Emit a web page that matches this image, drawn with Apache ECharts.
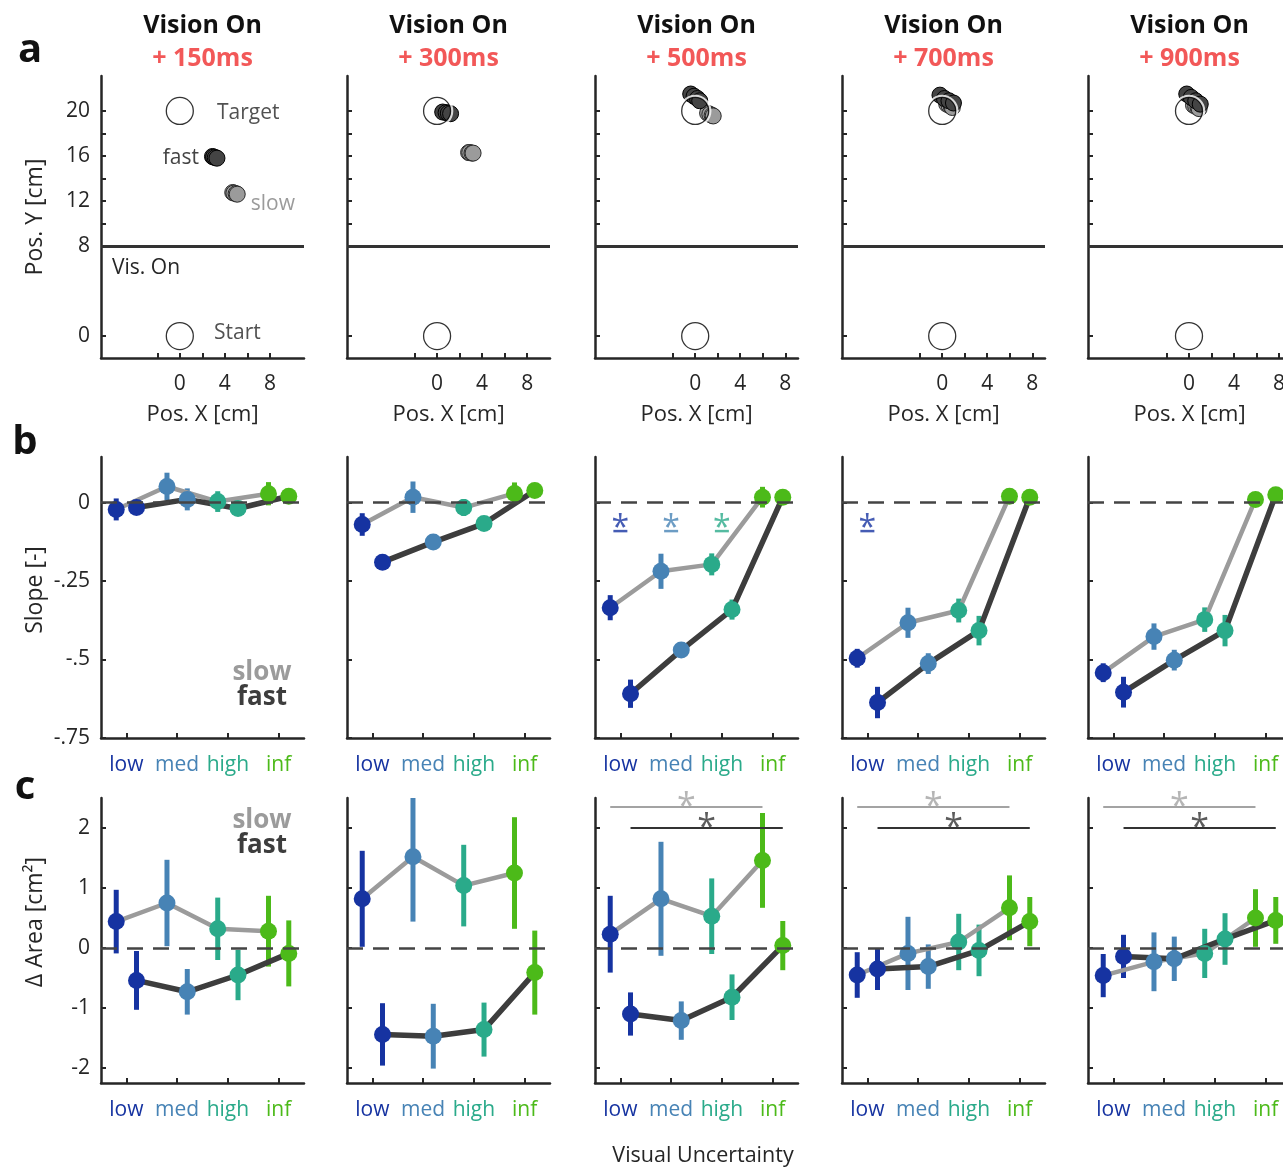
<!DOCTYPE html>
<html>
<head>
<meta charset="utf-8">
<script src="https://cdn.jsdelivr.net/npm/echarts@6/dist/echarts.min.js"></script>
<style>
  html, body { margin: 0; padding: 0; background: #fff; }
  #chart { width: 1283px; height: 1168px; }
</style>
</head>
<body>
<div id="chart"></div>
<script>
// ---- data ----------------------------------------------------------------
const delays = ['+ 150ms', '+ 300ms', '+ 500ms', '+ 700ms', '+ 900ms'];
const levels = ['low', 'med', 'high', 'inf'];

// hand positions [x, y] in cm at each delay after vision onset
const fastEnds = [
  [[2.9, 15.95], [3.0, 15.9], [3.15, 15.85], [3.3, 15.8]],
  [[0.5, 19.9], [0.8, 19.85], [1.0, 19.8], [1.2, 19.75]],
  [[-0.4, 21.5], [-0.1, 21.3], [0.2, 21.1], [0.4, 20.9]],
  [[-0.2, 21.4], [0.2, 21.1], [0.6, 20.9], [1.0, 20.7]],
  [[-0.2, 21.5], [0.2, 21.2], [0.6, 20.9], [1.0, 20.6]]
];
const slowEnds = [
  [[4.7, 12.75], [4.8, 12.7], [5.0, 12.65], [5.1, 12.6]],
  [[2.8, 16.3], [2.9, 16.3], [3.1, 16.25], [3.2, 16.25]],
  [[1.1, 19.8], [1.3, 19.7], [1.5, 19.6], [1.6, 19.55]],
  [[0.4, 20.6], [0.6, 20.5], [0.8, 20.4], [0.9, 20.3]],
  [[0.4, 20.5], [0.6, 20.4], [0.8, 20.3], [0.9, 20.2]]
];
const targetPos = [0, 20];
const startPos = [0, 0];
const visionOnY = 8;

// slope of the correction per uncertainty level (low, med, high, inf)
const slopeSlowMean = [
  [-0.022, 0.051, 0.003, 0.028],
  [-0.070, 0.017, -0.016, 0.029],
  [-0.335, -0.219, -0.197, 0.017],
  [-0.496, -0.383, -0.344, 0.020],
  [-0.542, -0.427, -0.373, 0.010]
];
const slopeSlowErr = [
  [0.035, 0.044, 0.033, 0.037],
  [0.036, 0.050, 0.027, 0.035],
  [0.040, 0.056, 0.035, 0.033],
  [0.030, 0.048, 0.038, 0.020],
  [0.030, 0.042, 0.039, 0.020]
];
const slopeFastMean = [
  [-0.016, 0.010, -0.019, 0.020],
  [-0.190, -0.126, -0.067, 0.038],
  [-0.609, -0.470, -0.341, 0.017],
  [-0.637, -0.513, -0.408, 0.017],
  [-0.604, -0.502, -0.408, 0.025]
];
const slopeFastErr = [
  [0.020, 0.035, 0.020, 0.020],
  [0.020, 0.020, 0.020, 0.020],
  [0.045, 0.020, 0.032, 0.020],
  [0.050, 0.033, 0.047, 0.020],
  [0.049, 0.033, 0.050, 0.020]
];
// levels with a significant slow/fast slope difference, per delay
const slopeStars = [[], [], [0, 1, 2], [0], []];

// change of enclosed area (cm^2)
const areaSlowMean = [
  [0.44, 0.75, 0.32, 0.28],
  [0.82, 1.52, 1.04, 1.25],
  [0.23, 0.82, 0.53, 1.46],
  [-0.45, -0.09, 0.10, 0.67],
  [-0.46, -0.23, -0.09, 0.50]
];
const areaSlowErr = [
  [0.53, 0.72, 0.52, 0.59],
  [0.80, 1.08, 0.68, 0.93],
  [0.64, 0.95, 0.63, 0.79],
  [0.38, 0.61, 0.47, 0.54],
  [0.36, 0.49, 0.41, 0.48]
];
const areaFastMean = [
  [-0.54, -0.73, -0.45, -0.09],
  [-1.44, -1.47, -1.36, -0.41],
  [-1.10, -1.21, -0.82, 0.04],
  [-0.35, -0.31, -0.04, 0.44],
  [-0.14, -0.18, 0.15, 0.46]
];
const areaFastErr = [
  [0.49, 0.38, 0.42, 0.55],
  [0.52, 0.54, 0.45, 0.70],
  [0.36, 0.32, 0.38, 0.41],
  [0.35, 0.37, 0.43, 0.41],
  [0.36, 0.37, 0.43, 0.39]
];
// delays with a significant low-vs-inf trend in both speed groups
const areaTrendPanels = [2, 3, 4];

// ---- styling ---------------------------------------------------------------
const FONT = '"Open Sans", "Noto Sans", sans-serif';
const FS = 21;
const INK = '#262626';
const SLOW = '#9b9b9b';
const FAST = '#3d3d3d';
const RED = '#f25858';
const levelColors = ['#1633a1', '#4783b5', '#2aaa8a', '#4cba19'];

const colLeft = [101, 347, 595, 842, 1088];
const colW = 203;
const rowBox = [{ top: 76, h: 282 }, { top: 457, h: 281 }, { top: 798, h: 285 }];
const posXRange = [[-7, 11.03], [-8, 10.03], [-8.9, 9.13], [-8.9, 9.13], [-8.97, 9.06]];
const posYRange = [-1.95, 23.1];
const slopeRange = [-0.75, 0.145];
const areaRange = [-2.25, 2.5];
const catRange = [0.5, 4.5];
const OFF = 0.2; // horizontal offset of slow (left) / fast (right) groups

function baseAxis() {
  return {
    type: 'value',
    axisLine: { show: true, onZero: false, lineStyle: { color: INK, width: 2.5 } },
    axisTick: { show: true, inside: true, length: 5, lineStyle: { color: INK, width: 2 } },
    splitLine: { show: false },
    axisLabel: { color: INK, fontSize: FS, fontFamily: FONT }
  };
}

const grids = [], xAxes = [], yAxes = [], series = [];
const idx = (r, c) => r * 5 + c;

const levelRich = {};
levelColors.forEach((c, i) => { levelRich['l' + i] = { color: c, fontSize: FS, fontFamily: FONT }; });

for (let r = 0; r < 3; r++) {
  for (let c = 0; c < 5; c++) {
    const k = idx(r, c);
    grids.push({
      left: colLeft[c], top: rowBox[r].top, width: colW, height: rowBox[r].h,
      containLabel: false, outerBoundsMode: 'none'
    });
    const xa = baseAxis(), ya = baseAxis();
    xa.gridIndex = k; ya.gridIndex = k;
    if (r === 0) {
      xa.min = posXRange[c][0]; xa.max = posXRange[c][1];
      xa.axisTick.customValues = [-2, 0, 2, 4, 6, 8];
      xa.axisLabel.customValues = [0, 4, 8];
      xa.axisLabel.margin = 16;
      xa.name = 'Pos. X [cm]';
      xa.nameLocation = 'middle';
      xa.nameGap = 46;
      xa.nameTextStyle = { color: INK, fontSize: 22, fontFamily: FONT };
      ya.min = posYRange[0]; ya.max = posYRange[1];
      ya.axisTick.customValues = [0, 8, 10, 12, 14, 16, 18, 20];
      ya.axisLabel.customValues = [0, 8, 12, 16, 20];
    } else {
      xa.min = catRange[0]; xa.max = catRange[1];
      xa.axisTick.customValues = [1, 2, 3, 4];
      xa.axisLabel.customValues = [1, 2, 3, 4];
      xa.axisLabel.margin = 17;
      xa.axisLabel.formatter = v => { const i = Math.round(v) - 1; return '{l' + i + '|' + levels[i] + '}'; };
      xa.axisLabel.rich = levelRich;
      if (r === 1) {
        ya.min = slopeRange[0]; ya.max = slopeRange[1];
        ya.axisTick.customValues = [-0.75, -0.5, -0.25, 0];
        ya.axisLabel.customValues = [-0.75, -0.5, -0.25, 0];
        ya.axisLabel.formatter = v => (v === 0 ? '0' : String(v).replace('0.', '.'));
      } else {
        ya.min = areaRange[0]; ya.max = areaRange[1];
        ya.axisTick.customValues = [-2, -1, 0, 1, 2];
        ya.axisLabel.customValues = [-2, -1, 0, 1, 2];
      }
    }
    ya.axisLabel.margin = 11;
    ya.axisLabel.show = c === 0;
    xAxes.push(xa); yAxes.push(ya);
  }
}

// ---- row a: hand positions --------------------------------------------------
const labelFont = { fontSize: FS, fontFamily: FONT };
for (let c = 0; c < 5; c++) {
  const k = idx(0, c);
  series.push({
    type: 'line', xAxisIndex: k, yAxisIndex: k, data: [], silent: true,
    markLine: {
      silent: true, symbol: ['none', 'none'], label: { show: false },
      lineStyle: { color: '#333', width: 3, type: 'solid' },
      data: [{ yAxis: visionOnY }]
    }
  });
  const ptSeries = (pts, fill, edge, labelItem) => ({
    type: 'scatter', xAxisIndex: k, yAxisIndex: k, silent: true, symbolSize: 16,
    itemStyle: { color: fill, borderColor: edge, borderWidth: 1, opacity: 1 },
    data: pts.map((p, i) => {
      const item = { value: p };
      if (c === 0 && labelItem && labelItem.index === i) item.label = labelItem.label;
      return item;
    })
  });
  series.push(ptSeries(slowEnds[c], SLOW, '#2a2a2a', {
    index: 3,
    label: { show: true, formatter: 'slow', position: 'right', distance: 5, offset: [0, 10], color: SLOW, ...labelFont }
  }));
  series.push(ptSeries(fastEnds[c], '#444444', '#000', {
    index: 0,
    label: { show: true, formatter: 'fast', position: 'left', distance: 5, offset: [0, 2], color: '#444', ...labelFont }
  }));
  series.push({
    type: 'scatter', xAxisIndex: k, yAxisIndex: k, silent: true, symbolSize: 27,
    itemStyle: { color: '#fff', borderColor: '#000', borderWidth: 1.3 },
    data: [{
      value: startPos,
      label: c === 0 ? { show: true, formatter: 'Start', position: 'right', distance: 20, offset: [0, -3], color: INK, ...labelFont } : undefined
    }]
  });
  series.push({
    type: 'scatter', xAxisIndex: k, yAxisIndex: k, silent: true, symbolSize: 30,
    itemStyle: { color: 'rgba(255,255,255,0)', borderColor: '#fff', borderWidth: 2.5 },
    data: [targetPos]
  });
  series.push({
    type: 'scatter', xAxisIndex: k, yAxisIndex: k, silent: true, symbolSize: 27,
    itemStyle: { color: 'rgba(255,255,255,0)', borderColor: '#000', borderWidth: 1.3 },
    data: [{
      value: targetPos,
      label: c === 0 ? { show: true, formatter: 'Target', position: 'right', distance: 23, offset: [0, 2], color: INK, ...labelFont } : undefined
    }]
  });
}

// ---- rows b and c: slope and area per uncertainty level ----------------------
function errorBars(k, dx, means, errs, range) {
  return {
    type: 'custom', xAxisIndex: k, yAxisIndex: k, silent: true,
    encode: { x: 0, y: [1, 2] },
    data: means.map((m, i) => [i + 1 + dx, Math.max(m - errs[i], range[0]), Math.min(m + errs[i], range[1]), i]),
    renderItem: (params, api) => {
      const a = api.coord([api.value(0), api.value(1)]);
      const b = api.coord([api.value(0), api.value(2)]);
      return {
        type: 'line',
        shape: { x1: a[0], y1: a[1], x2: b[0], y2: b[1] },
        style: { stroke: levelColors[api.value(3)], lineWidth: 5 }
      };
    }
  };
}
function meanLine(k, dx, means, color, width) {
  return {
    type: 'line', xAxisIndex: k, yAxisIndex: k, silent: true,
    symbol: 'circle', symbolSize: 17, showSymbol: true,
    lineStyle: { color: color, width: width },
    itemStyle: { borderWidth: 0 },
    data: means.map((m, i) => ({ value: [i + 1 + dx, m], itemStyle: { color: levelColors[i] } }))
  };
}
function zeroLine(k) {
  return {
    type: 'line', xAxisIndex: k, yAxisIndex: k, data: [], silent: true,
    markLine: {
      silent: true, symbol: ['none', 'none'], label: { show: false },
      lineStyle: { color: '#444', width: 2.5, type: [16, 10] },
      data: [{ yAxis: 0 }]
    }
  };
}

const panels = [
  { r: 1, slow: slopeSlowMean, slowE: slopeSlowErr, fast: slopeFastMean, fastE: slopeFastErr, range: slopeRange },
  { r: 2, slow: areaSlowMean, slowE: areaSlowErr, fast: areaFastMean, fastE: areaFastErr, range: areaRange }
];
panels.forEach(p => {
  for (let c = 0; c < 5; c++) {
    const k = idx(p.r, c);
    series.push(errorBars(k, -OFF, p.slow[c], p.slowE[c], p.range));
    series.push(meanLine(k, -OFF, p.slow[c], SLOW, 4.5));
    series.push(errorBars(k, OFF, p.fast[c], p.fastE[c], p.range));
    series.push(meanLine(k, OFF, p.fast[c], FAST, 5.5));
    series.push(zeroLine(k));
  }
});

// significance marks on the slope panels: underlined asterisk above the level
for (let c = 0; c < 5; c++) {
  if (!slopeStars[c].length) continue;
  const k = idx(1, c);
  series.push({
    type: 'scatter', xAxisIndex: k, yAxisIndex: k, silent: true,
    symbol: 'rect', symbolSize: [14, 2.5],
    data: slopeStars[c].map(i => ({
      value: [i + 1, -0.091],
      itemStyle: { color: levelColors[i] },
      label: { show: true, formatter: '*', position: 'top', distance: -15, color: levelColors[i], fontSize: 32, fontFamily: FONT }
    }))
  });
}

// trend bars on the area panels (low to inf), slow above fast
const trendY = { slow: 2.35, fast: 2.0 };
areaTrendPanels.forEach(c => {
  const k = idx(2, c);
  [['slow', -OFF, '#a3a3a3'], ['fast', OFF, '#333']].forEach(([g, dx, col]) => {
    const y = trendY[g];
    series.push({
      type: 'line', xAxisIndex: k, yAxisIndex: k, silent: true, symbol: 'none',
      lineStyle: { color: col, width: 2 },
      data: [[1 + dx, y], [4 + dx, y]]
    });
    series.push({
      type: 'scatter', xAxisIndex: k, yAxisIndex: k, silent: true, symbolSize: 0,
      data: [{
        value: [2.5 + dx, y],
        label: { show: true, formatter: '*', position: 'top', distance: -17, color: col, fontSize: 34, fontFamily: FONT }
      }]
    });
  });
});

// ---- text -------------------------------------------------------------------
const graphics = [];
function txt(x, y, text, opts) {
  const style = Object.assign({
    text: text, x: 0, y: 0, fill: INK, fontSize: FS, fontFamily: FONT,
    align: 'center', verticalAlign: 'middle', textAlign: 'center', textVerticalAlign: 'middle'
  }, opts || {});
  const el = { type: 'text', x: x, y: y, silent: true, style: style };
  if (opts && opts.rot) { el.rotation = Math.PI / 2; delete style.rot; }
  graphics.push(el);
}
for (let c = 0; c < 5; c++) {
  const cx = colLeft[c] + colW / 2;
  txt(cx, 26, 'Vision On', { fontSize: 25, fontWeight: 'bold', fill: '#111' });
  txt(cx, 59, delays[c], { fontSize: 25, fontWeight: 'bold', fill: RED });
}
txt(30, 51, 'a', { fontSize: 40, fontWeight: 'bold', fill: '#111' });
txt(25, 443, 'b', { fontSize: 40, fontWeight: 'bold', fill: '#111' });
txt(25, 788, 'c', { fontSize: 40, fontWeight: 'bold', fill: '#111' });
txt(35, 217, 'Pos. Y [cm]', { rot: true, fontSize: 23 });
txt(35, 590, 'Slope [-]', { rot: true, fontSize: 23 });
txt(35, 922, 'Δ Area [cm²]', { rot: true, fontSize: 23 });
txt(112, 268, 'Vis. On', { align: 'left', textAlign: 'left' });
txt(262, 673, 'slow', { fontSize: 26, fontWeight: 'bold', fill: SLOW });
txt(262, 698, 'fast', { fontSize: 26, fontWeight: 'bold', fill: FAST });
txt(262, 821, 'slow', { fontSize: 26, fontWeight: 'bold', fill: SLOW });
txt(262, 846, 'fast', { fontSize: 26, fontWeight: 'bold', fill: FAST });
txt(703, 1156, 'Visual Uncertainty', { fontSize: 21.5 });

const chart = echarts.init(document.getElementById('chart'), null, { renderer: 'canvas' });
chart.setOption({
  backgroundColor: '#fff',
  animation: false,
  textStyle: { fontFamily: FONT },
  grid: grids,
  xAxis: xAxes,
  yAxis: yAxes,
  series: series,
  graphic: graphics
});
</script>
</body>
</html>
